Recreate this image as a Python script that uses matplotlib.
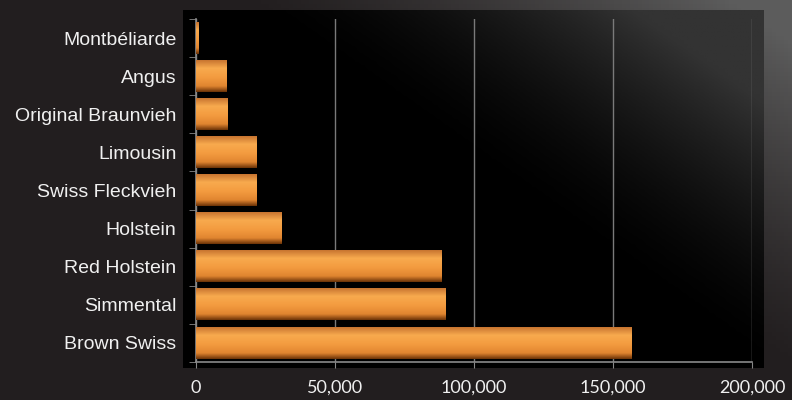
import numpy as np
import matplotlib.pyplot as plt
from matplotlib.colors import LinearSegmentedColormap

breeds = ["Montbéliarde", "Angus", "Original Braunvieh", "Limousin",
          "Swiss Fleckvieh", "Holstein", "Red Holstein", "Simmental", "Brown Swiss"]
counts = [1000, 10800, 11200, 21600, 21600, 30600, 88200, 89600, 156800]
xticks = [0, 50000, 100000, 150000, 200000]
xlabels = ["0", "50,000", "100,000", "150,000", "200,000"]

fig = plt.figure(figsize=(7.92, 4.0), dpi=100)
fig.patch.set_facecolor("#221e1f")

# background gradient for the whole figure (lighter towards top right)
bg = fig.add_axes([0, 0, 1, 1], zorder=0)
gx, gy = np.meshgrid(np.linspace(0, 1, 200), np.linspace(0, 1, 100))
g = np.clip((gx - 0.6) * 1.6 + (gy - 0.6) * 1.2, 0, 1) ** 1.3
bg_cmap = LinearSegmentedColormap.from_list("bg", ["#221e1f", "#5c5c5c"])
bg.imshow(g, cmap=bg_cmap, origin="lower", extent=(0, 1, 0, 1), aspect="auto")
bg.set_axis_off()

# black plot panel
panel = fig.add_axes([183 / 792, 32 / 400, 581 / 792, 358 / 400], zorder=1)
px, py = np.meshgrid(np.linspace(0, 1, 200), np.linspace(0, 1, 100))
pg = np.clip((px - 0.55) * 1.5 + (py - 0.5) * 1.3, 0, 1) ** 1.6
panel_cmap = LinearSegmentedColormap.from_list("panel", ["#000000", "#333333"])
panel.imshow(pg, cmap=panel_cmap, origin="lower", extent=(0, 1, 0, 1), aspect="auto")
panel.set_axis_off()

ax = fig.add_axes([196 / 792, 38 / 400, 556 / 792, 343 / 400], zorder=2)
ax.patch.set_alpha(0)

ypos = np.arange(len(breeds))[::-1]
bar_h = 0.82
bar_cmap = LinearSegmentedColormap.from_list(
    "bar", [(0.0, "#c87530"), (0.25, "#f8aa4e"), (0.55, "#f39b3f"),
            (0.82, "#e08530"), (1.0, "#6e3408")])
grad = np.linspace(0, 1, 64).reshape(-1, 1)
for y, v in zip(ypos, counts):
    ax.imshow(grad, cmap=bar_cmap, origin="upper", aspect="auto",
              extent=(0, v, y - bar_h / 2, y + bar_h / 2), zorder=3)

ax.set_xlim(0, 200000)
ax.set_ylim(-0.5, len(breeds) - 0.5)
ax.set_xticks(xticks)
ax.set_xticklabels(xlabels, color="#f0f0f0", fontsize=13, family="Lato")
ax.set_yticks(ypos)
ax.set_yticklabels(breeds, color="#f0f0f0", fontsize=14, family="Liberation Sans")
ax.set_yticks(np.arange(len(breeds) + 1) - 0.5, minor=True)
ax.tick_params(axis="y", which="major", length=0, pad=14)
ax.tick_params(axis="y", which="minor", length=5, color="#888888", direction="out")
ax.tick_params(axis="x", length=4, color="#888888", pad=9)
ax.grid(axis="x", color="#7a7a7a", linewidth=1.0, zorder=1)
ax.set_axisbelow(True)
for side in ["top", "right"]:
    ax.spines[side].set_visible(False)
for side in ["left", "bottom"]:
    ax.spines[side].set_color("#8a8a8a")
    ax.spines[side].set_linewidth(1.2)

fig.savefig("out.png", dpi=100, facecolor=fig.get_facecolor())
